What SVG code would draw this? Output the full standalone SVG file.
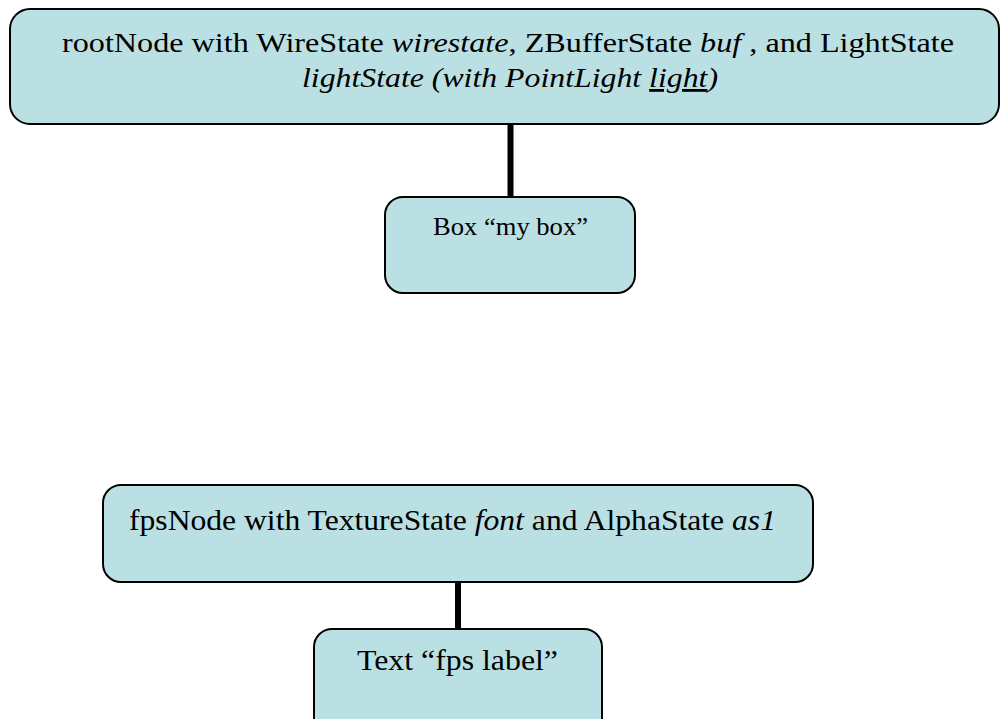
<svg xmlns="http://www.w3.org/2000/svg" width="1000" height="719" viewBox="0 0 1000 719">
<style>
.node{fill:#BBE0E3;stroke:#000;stroke-width:2}
.t{font-family:"Liberation Serif","Times New Roman",serif;fill:#000}
.i{font-style:italic}
.edge{stroke:#000;stroke-width:6;fill:none}
</style>
<rect width="1000" height="719" fill="#fff"/>
<g id="connectors">
<line class="edge" x1="510.5" y1="124" x2="510.5" y2="197"/>
<line class="edge" x1="458" y1="582" x2="458" y2="629"/>
</g>
<g id="rootNode">
<rect class="node" x="10" y="9" width="989" height="115" rx="20"/>
<text class="t" x="62" y="52" font-size="28" textLength="892" lengthAdjust="spacingAndGlyphs">rootNode with WireState <tspan class="i">wirestate</tspan>, ZBufferState <tspan class="i">buf</tspan> , and LightState</text>
<text class="t i" x="302" y="87" font-size="28" textLength="416" lengthAdjust="spacingAndGlyphs">lightState (with PointLight <tspan text-decoration="underline">light</tspan>)</text>
</g>
<g id="box">
<rect class="node" x="385" y="197" width="250" height="96" rx="18"/>
<text class="t" x="433" y="235" font-size="26" textLength="155" lengthAdjust="spacingAndGlyphs">Box “my box”</text>
</g>
<g id="fpsNode">
<rect class="node" x="103" y="485" width="710" height="97" rx="18"/>
<text class="t" x="129" y="530" font-size="30" textLength="647" lengthAdjust="spacingAndGlyphs">fpsNode with TextureState <tspan class="i">font</tspan> and AlphaState <tspan class="i">as1</tspan></text>
</g>
<g id="fpsLabel">
<rect class="node" x="314" y="629" width="288" height="120" rx="18"/>
<text class="t" x="357" y="670" font-size="29" textLength="201" lengthAdjust="spacingAndGlyphs">Text “fps label”</text>
</g>
</svg>
